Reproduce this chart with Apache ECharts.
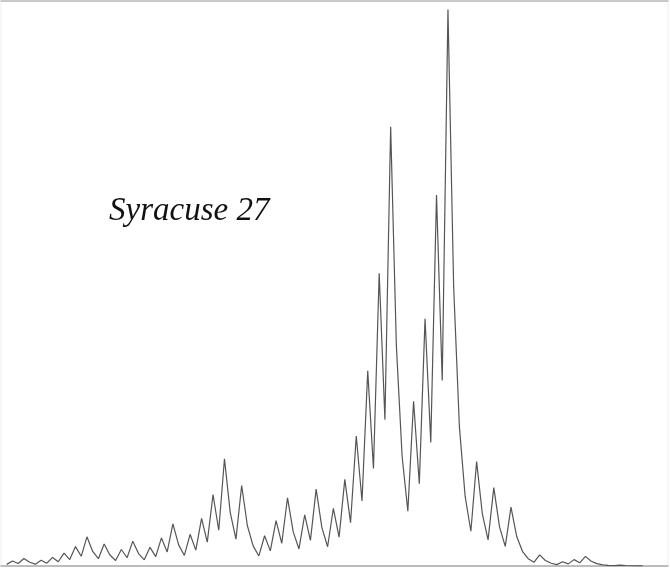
<!DOCTYPE html>
<html>
<head>
<meta charset="utf-8">
<script src="https://cdn.jsdelivr.net/npm/echarts@6/dist/echarts.min.js"></script>
<style>
  html, body { margin: 0; padding: 0; background: #fff; }
  #chart { width: 670px; height: 572px; }
</style>
</head>
<body>
<div id="chart"></div>
<script>
// Syracuse (Collatz) flight of 27, step by step
const startValue = 27;
const flight = [
  27, 82, 41, 124, 62, 31, 94, 47, 142, 71, 214, 107, 322, 161, 484, 242,
  121, 364, 182, 91, 274, 137, 412, 206, 103, 310, 155, 466, 233, 700, 350,
  175, 526, 263, 790, 395, 1186, 593, 1780, 890, 445, 1336, 668, 334, 167,
  502, 251, 754, 377, 1132, 566, 283, 850, 425, 1276, 638, 319, 958, 479,
  1438, 719, 2158, 1079, 3238, 1619, 4858, 2429, 7288, 3644, 1822, 911,
  2734, 1367, 4102, 2051, 6154, 3077, 9232, 4616, 2308, 1154, 577, 1732,
  866, 433, 1300, 650, 325, 976, 488, 244, 122, 61, 184, 92, 46, 23, 70,
  35, 106, 53, 160, 80, 40, 20, 10, 5, 16, 8, 4, 2, 1
];
const steps = flight.map((v, i) => i + 1);

let chart = echarts.init(document.getElementById("chart"));
const option = {
  animation: false,
  title: {
    text: "Syracuse " + startValue,
    left: 104,
    top: 190,
    textStyle: {
      fontFamily: "'Liberation Serif', serif",
      fontStyle: "italic",
      fontWeight: "normal",
      fontSize: 33,
      color: "#111"
    }
  },
  grid: {
    left: 1, right: 2, top: 1, bottom: 6,
    show: true,
    borderColor: "#eeeeee",
    borderWidth: 1
  },
  xAxis: [
    {
      type: "value",
      min: 0,
      max: 116.4,
      axisLine: { show: true, lineStyle: { color: "#aaaaaa", width: 1.5 } },
      axisTick: { show: false },
      axisLabel: { show: false },
      splitLine: { show: false }
    },
    {
      type: "value",
      position: "top",
      min: 0,
      max: 116.4,
      axisLine: { show: true, onZero: false, lineStyle: { color: "#bbbbbb", width: 1.5 } },
      axisTick: { show: false },
      axisLabel: { show: false },
      splitLine: { show: false }
    }
  ],
  yAxis: {
    type: "value",
    min: 0,
    max: 9375,
    axisLine: { show: false },
    axisTick: { show: false },
    axisLabel: { show: false },
    splitLine: { show: false }
  },
  series: [
    {
      type: "line",
      data: flight.map((v, i) => [steps[i], v]),
      showSymbol: false,
      lineStyle: { color: "#555555", width: 1.2 }
    }
  ]
};
chart.setOption(option);
</script>
</body>
</html>
